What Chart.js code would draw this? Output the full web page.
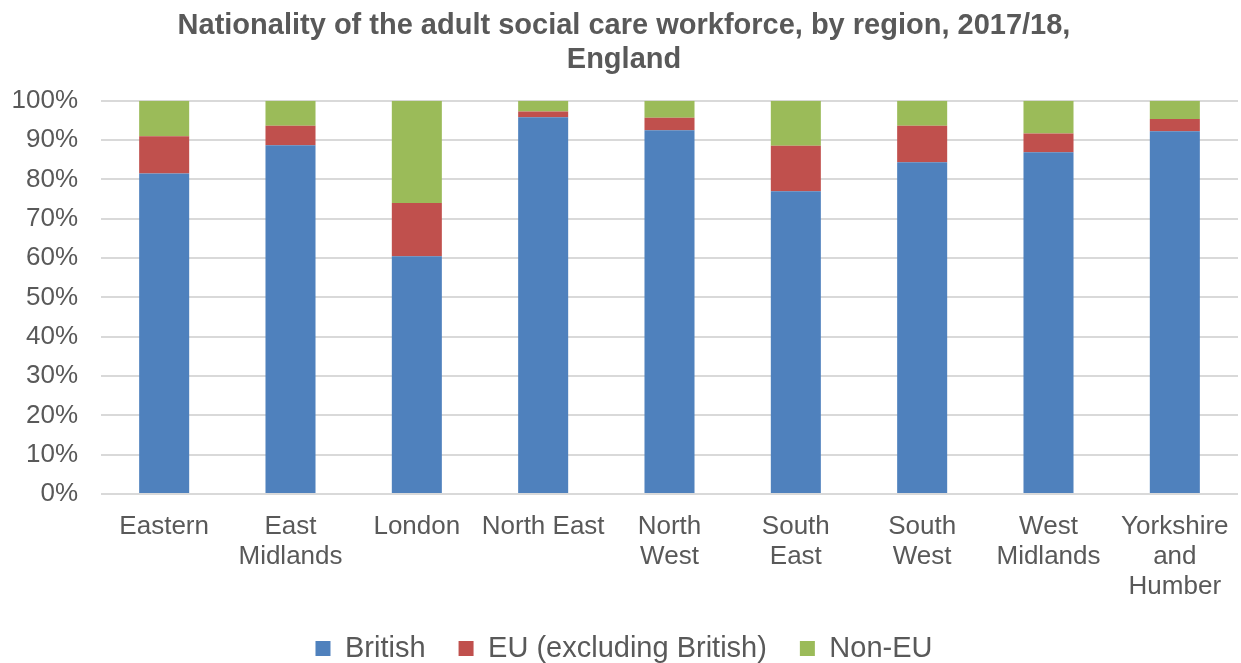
<!DOCTYPE html>
<html>
<head>
<meta charset="utf-8">
<script src="https://cdn.jsdelivr.net/npm/chart.js@4.4.1/dist/chart.umd.min.js"></script>
<style>
  html, body { margin: 0; padding: 0; background: #fff; }
  #wrap { width: 1241px; height: 663px; }
</style>
</head>
<body>
<div id="wrap"><canvas id="grafica" width="1241" height="663"></canvas></div>
<script>
// regions (multi-line labels as in the original)
const regiones = ['Eastern', ['East', 'Midlands'], 'London', 'North East', ['North', 'West'],
    ['South', 'East'], ['South', 'West'], ['West', 'Midlands'], ['Yorkshire', 'and', 'Humber']];

// share of workforce, %
const british = [81.5, 88.7, 60.5, 95.8, 92.5, 77.0, 84.4, 86.9, 92.3];
const euSinBritish = [9.5, 5.0, 13.5, 1.5, 3.2, 11.6, 9.3, 4.8, 3.1];
const nonEu = [9.0, 6.3, 26.0, 2.7, 4.3, 11.4, 6.3, 8.3, 4.6];

const yTicks = [0, 10, 20, 30, 40, 50, 60, 70, 80, 90, 100];

const gris = '#595959';
Chart.defaults.font.family = '"Liberation Sans", Arial, sans-serif';
Chart.defaults.color = gris;

const datos = {
    labels: regiones,
    datasets: [
        { label: 'British', data: british, backgroundColor: '#4F81BD' },
        { label: 'EU (excluding British)', data: euSinBritish, backgroundColor: '#C0504D' },
        { label: 'Non-EU', data: nonEu, backgroundColor: '#9BBB59' }
    ]
};

const opciones = {
    responsive: false,
    devicePixelRatio: 1,
    animation: false,
    barPercentage: 0.396,
    categoryPercentage: 1,
    // legend box is taller than its row, so let it hang a little below the canvas
    layout: { padding: { left: 10, right: 3, top: 0, bottom: -10 } },
    plugins: {
        title: {
            display: true,
            text: ['Nationality of the adult social care workforce, by region, 2017/18,', 'England'],
            color: gris,
            font: { size: 29, weight: 'bold', lineHeight: 1.17 },
            padding: { top: 9, bottom: 24 }
        },
        legend: {
            position: 'bottom',
            labels: {
                boxWidth: 15,
                boxHeight: 15,
                padding: 33,
                color: gris,
                font: { size: 29 }
            }
        },
        tooltip: { enabled: false }
    },
    scales: {
        x: {
            stacked: true,
            grid: { display: false, drawTicks: false },
            border: { display: false },
            ticks: { padding: 18, color: gris, font: { size: 26, lineHeight: 1.15 }, maxRotation: 0, autoSkip: false },
            afterFit: (axis) => {
                axis.height = 107;
                // labels sit inside their category, no extra side room needed
                axis.paddingLeft = 0;
                axis.paddingRight = 0;
            }
        },
        y: {
            stacked: true,
            min: 0,
            max: 100,
            afterBuildTicks: (axis) => { axis.ticks = yTicks.map(v => ({ value: v })); },
            grid: { color: '#d9d9d9', lineWidth: 2, drawTicks: false },
            border: { display: false },
            ticks: { padding: 23, color: gris, font: { size: 26 }, callback: (v) => v + '%' },
            afterFit: (axis) => { axis.width = 91; }
        }
    }
};

new Chart(document.getElementById('grafica'), {
    type: 'bar',
    data: datos,
    options: opciones
});
</script>
</body>
</html>
